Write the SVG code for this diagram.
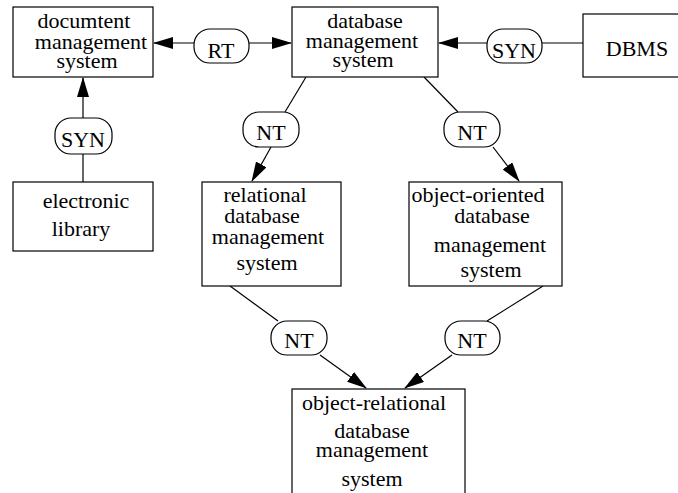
<svg xmlns="http://www.w3.org/2000/svg" width="678" height="493" viewBox="0 0 678 493">
<style>
  .box { fill: #fff; stroke: #000; stroke-width: 1.2; }
  .pill { fill: #fff; stroke: #000; stroke-width: 1.2; }
  .t { font-family: "Liberation Serif", "Times New Roman", serif; font-size: 22px; fill: #000; text-anchor: middle; }
  .c line { stroke: #000; stroke-width: 1.2; }
  .arr { marker-end: url(#ah); }
</style>
<defs>
  <marker id="ah" markerUnits="userSpaceOnUse" markerWidth="20" markerHeight="12" refX="19" refY="6" orient="auto">
    <path d="M0,0 L20,6 L0,12 Z" fill="#000"/>
  </marker>
</defs>
<rect width="678" height="493" fill="#fff"/>

<g id="connectors" class="c">
  <line class="arr" x1="194" y1="43" x2="154" y2="43"/>
  <line class="arr" x1="249" y1="43" x2="291" y2="43"/>
  <line class="arr" x1="487" y1="43" x2="439" y2="43"/>
  <line x1="542" y1="43" x2="583" y2="43"/>
  <line class="arr" x1="83" y1="118" x2="83" y2="78"/>
  <line x1="83" y1="154" x2="83" y2="182"/>
  <line x1="306" y1="77" x2="285" y2="112"/>
  <line class="arr" x1="271" y1="147" x2="252" y2="181"/>
  <line x1="424" y1="77" x2="458" y2="112"/>
  <line class="arr" x1="493" y1="147" x2="519" y2="181"/>
  <line x1="230" y1="286" x2="278" y2="321"/>
  <line class="arr" x1="320" y1="355" x2="366" y2="388"/>
  <line x1="543" y1="286" x2="487" y2="321"/>
  <line class="arr" x1="452" y1="355" x2="405" y2="388"/>
</g>

<g id="doc-mgmt">
  <rect class="box" x="13" y="7" width="140" height="70"/>
  <text class="t" x="84" y="28">documtent</text>
  <text class="t" x="91" y="49">management</text>
  <text class="t" x="87" y="68">system</text>
</g>

<g id="db-mgmt">
  <rect class="box" x="292" y="7" width="146" height="70"/>
  <text class="t" x="365" y="28">database</text>
  <text class="t" x="362" y="48">management</text>
  <text class="t" x="363" y="67">system</text>
</g>

<g id="dbms">
  <rect class="box" x="583" y="14" width="110" height="63"/>
  <text class="t" x="637" y="56">DBMS</text>
</g>

<g id="elec-lib">
  <rect class="box" x="13" y="182" width="140" height="69"/>
  <text class="t" x="86" y="208">electronic</text>
  <text class="t" x="81" y="236">library</text>
</g>

<g id="rdbms">
  <rect class="box" x="202" y="182" width="139" height="104"/>
  <text class="t" x="265" y="202">relational</text>
  <text class="t" x="262" y="223">database</text>
  <text class="t" x="268" y="244">management</text>
  <text class="t" x="267" y="270">system</text>
</g>

<g id="oodbms">
  <rect class="box" x="409" y="182" width="153" height="104"/>
  <text class="t" x="478" y="202">object-oriented</text>
  <text class="t" x="492" y="223">database</text>
  <text class="t" x="490" y="252">management</text>
  <text class="t" x="491" y="277">system</text>
</g>

<g id="ordbms">
  <rect class="box" x="292" y="389" width="173" height="130"/>
  <text class="t" x="374" y="410">object-relational</text>
  <text class="t" x="372" y="438">database</text>
  <text class="t" x="372" y="457">management</text>
  <text class="t" x="372" y="486">system</text>
</g>

<g id="rt">
  <rect class="pill" x="194" y="29" width="55" height="34" rx="16"/>
  <text class="t" x="221" y="58">RT</text>
</g>
<g id="syn-top">
  <rect class="pill" x="487" y="29" width="55" height="34" rx="16"/>
  <text class="t" x="514" y="58">SYN</text>
</g>
<g id="syn-left">
  <rect class="pill" x="55" y="118" width="57" height="36" rx="16"/>
  <text class="t" x="83" y="147">SYN</text>
</g>
<g id="nt1">
  <rect class="pill" x="243" y="112" width="56" height="35" rx="16"/>
  <text class="t" x="271" y="140">NT</text>
</g>
<g id="nt2">
  <rect class="pill" x="444" y="112" width="56" height="35" rx="16"/>
  <text class="t" x="472" y="140">NT</text>
</g>
<g id="nt3">
  <rect class="pill" x="271" y="321" width="56" height="34" rx="16"/>
  <text class="t" x="299" y="348">NT</text>
</g>
<g id="nt4">
  <rect class="pill" x="445" y="321" width="55" height="34" rx="16"/>
  <text class="t" x="472" y="348">NT</text>
</g>
</svg>
